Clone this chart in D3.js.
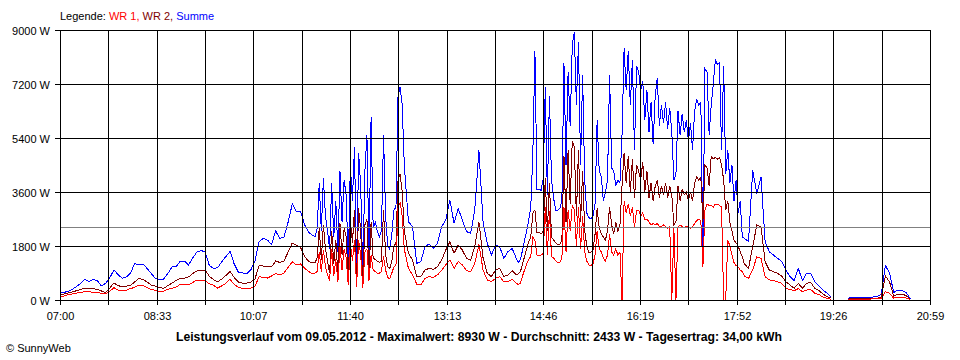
<!DOCTYPE html>
<html><head><meta charset="utf-8">
<script src="https://cdn.jsdelivr.net/npm/d3@7"></script>
<style>
body{margin:0;background:#fff;}
svg{display:block;font-family:"Liberation Sans",Arial,sans-serif;}
</style></head><body>
<svg id="c" width="960" height="360"></svg>
<script>
// ---- sample times (minutes after midnight): 4-min steps, 2-min steps in the gusty periods ----
const startMinute = 420, endMinute = 1259;
const sampleTimes = [].concat(d3.range(420,661,4), d3.range(662,753,2), d3.range(756,861,4),
                              d3.range(862,1081,2), d3.range(1084,1257,4));
// ---- series values (W) ----
const summe = [
240,260,280,360,450,560,690,620,680,640,470,560,740,1000,850,720,770,900,1210,1180,
1200,1050,880,720,680,700,880,1100,1110,1300,1300,1170,1400,1600,1650,1600,1150,1050,1080,1270,
1450,1620,1200,930,900,880,1000,1300,1950,2050,2000,1850,2300,2050,2100,2600,3200,2950,2950,2500,2250,
2200,2150,2100,2400,3900,2300,4050,2800,2300,1700,3900,2100,3300,1600,4300,2600,4000,3500,1200,4500,
3300,5100,900,4900,3800,800,4300,5500,1500,6100,2400,2600,2300,2100,2300,5500,2800,1800,1700,2200,
3000,3100,6800,7100,6500,4500,
2610,2440,1220,1280,1780,1870,1720,1890,2440,2670,3330,2560,3050,2670,2280,2220,3000,5000,2600,1890,
1500,1830,1780,1390,1610,1720,1390,
1250,1350,1650,2000,2300,2650,3100,4900,8300,3700,3700,3650,4050,7100,3500,6800,4000,3400,3000,3000,
3050,3300,7900,4500,7600,5800,8500,8930,6500,8600,4500,7500,4000,2900,2750,2700,2800,3200,6000,4300,
4100,3300,3600,4000,7500,4400,4300,3800,4000,3900,5500,8400,7000,8300,6500,8000,5000,7800,7600,7000,
7300,6000,7000,5600,6600,5200,6800,7400,5800,6500,5900,6600,5700,6400,5600,4000,4200,6300,5500,6200,
5600,6000,5300,5900,5000,6300,6700,6500,6600,1600,7700,7600,5500,6500,7200,8000,7850,7900,5000,7800,
4200,5000,3900,4500,3300,4000,2900,3300,2100,2050,
1950,4330,3550,4100,1950,1610,1500,1390,1280,1000,780,650,1050,650,890,890,610,470,330,220,
90,null,null,null,60,80,80,80,90,90,100,110,200,1150,900,250,330,320,250,40,null,null,null,null];
const wr2 = [
170,200,240,270,310,350,390,380,370,360,300,250,400,570,480,440,460,490,600,720,
680,600,500,460,420,390,480,560,650,720,730,770,880,970,980,1000,790,680,610,700,
820,950,750,600,560,560,600,700,1150,1130,1120,1100,1300,1250,1300,1600,1900,1830,1750,1440,1280,
1250,1245,1250,1400,2400,1350,2500,1700,1300,900,2300,1200,2000,850,2550,1500,2400,2100,700,2700,
1900,3000,600,3050,2300,500,2500,2700,800,2600,1400,1350,1300,1250,1300,3000,1500,1100,1050,1300,
1800,1900,4000,4200,3600,2300,
1555,1330,780,780,1000,1055,1020,1110,1330,1665,1945,1555,1830,1665,1390,1330,1780,2600,1400,890,
780,1000,1055,780,835,980,835,
870,940,1200,1450,1700,1950,2100,2900,3000,2250,2250,2200,2300,4050,2300,3900,2100,2000,1900,1850,
1850,2000,4800,2600,5000,3200,5300,5100,2800,5000,2600,4300,2300,1800,1600,1600,1650,2200,3050,2400,
2200,2100,2000,2300,3100,2500,2200,2600,2300,2500,3800,4900,3900,4800,3600,4700,3400,4500,4300,4000,
4600,3600,4300,3400,3900,3300,3800,4000,3400,3800,3500,3900,3400,3800,3500,2500,2600,3800,3300,3700,
3500,3600,3300,3600,3300,3900,4100,4000,4100,2600,4500,4400,3800,4800,4700,4750,4700,4750,4500,4000,
3000,3300,2600,2300,2000,1900,1800,1600,1450,1200,
1055,1780,2500,2440,1280,1000,945,890,800,610,500,390,550,390,555,580,390,310,190,110,
55,null,null,null,30,40,40,40,45,45,50,55,100,800,600,130,200,190,150,20,null,null,null,null];
const wr1 = [
100,130,180,200,230,250,280,270,260,250,220,200,290,410,330,310,330,380,420,500,
480,420,350,320,290,290,360,390,430,520,530,500,580,670,640,640,540,490,400,470,
560,690,520,420,390,390,400,450,780,750,730,800,880,840,900,1090,1270,1170,1200,1055,945,
900,890,900,950,1600,950,1650,1100,850,650,1700,800,1350,600,1800,1000,1700,1400,500,1900,
1300,2000,450,2000,1500,400,1600,1700,650,1500,1000,950,900,900,950,1450,1000,750,700,900,
1100,1150,3100,3250,2800,1700,
1055,835,530,500,720,780,755,835,980,1170,1330,1055,1280,1170,980,945,1220,1850,1000,670,
610,720,780,610,610,690,555,
520,555,800,1000,1200,1350,1450,2100,2000,1500,1500,1500,1550,3100,1500,2950,1450,1400,1300,1250,
1250,1400,3100,1600,3000,2300,3150,3000,1800,3100,1700,2800,1600,1300,1170,1150,1200,1500,2300,1700,
1600,1400,1300,1500,2200,1600,1500,1700,1500,1600,0,3300,2900,3200,2800,3100,2400,3000,3000,2800,
2900,2700,2700,2600,2500,2550,2500,2550,2450,2450,2500,2450,2400,2450,0,2400,0,2450,2500,2450,
2400,2450,2450,2400,2450,2550,2650,2700,2650,1100,3000,3200,3150,3150,3100,3200,3200,3150,3100,0,
0,2000,1800,1500,1250,1150,1100,1000,950,800,
720,1000,1440,1390,780,670,645,610,555,390,350,310,380,280,330,350,220,180,90,55,
20,null,null,null,20,25,25,25,30,30,35,35,60,280,220,60,100,90,70,10,null,null,null,null];
const yTicks = [0,1800,3600,5400,7200,9000];
const xTickLabels = ["07:00","08:33","10:07","11:40","13:13","14:46","16:19","17:52","19:26","20:59"];
const average = 2433;
const legendParts = [["Legende: ","#000"],["WR 1, ","#ff0000"],["WR 2, ","#800000"],["Summe","#0000ff"]];
const titleText = "Leistungsverlauf vom 09.05.2012 - Maximalwert: 8930 W - Durchschnitt: 2433 W - Tagesertrag: 34,00 kWh";
const creditText = "\u00A9 SunnyWeb";

const svg = d3.select("#c");
const x = d3.scaleLinear().domain([startMinute,endMinute]).range([60,930]);
const y = d3.scaleLinear().domain([0,9000]).range([300,30]);

// series
const line = d3.line().defined(d=>d[1]!==null).x(d=>x(d[0])).y(d=>y(d[1]));
[[summe,"#0000ff"],[wr2,"#800000"],[wr1,"#ff0000"]].forEach(([vals,col])=>{
  svg.append("path").datum(vals.map((v,i)=>[sampleTimes[i],v]))
    .attr("d",line).attr("fill","none").attr("stroke",col).attr("stroke-width",1)
    .attr("shape-rendering","crispEdges");
});

// average line
const ya = Math.round(y(average))+0.5;
svg.append("line").attr("x1",60).attr("x2",930).attr("y1",ya).attr("y2",ya)
  .attr("stroke","#808080").attr("shape-rendering","crispEdges");

// grid
const g = svg.append("g").attr("stroke","#000").attr("shape-rendering","crispEdges");
const nGrid = 18;
for(let k=0;k<=nGrid;k++){
  const xp = Math.round(x(startMinute + k*(endMinute-startMinute)/nGrid))+0.5;
  g.append("line").attr("x1",xp).attr("x2",xp).attr("y1",30).attr("y2",305);
}
yTicks.forEach(v=>{
  const yp = Math.round(y(v))+0.5;
  g.append("line").attr("x1",55).attr("x2",931).attr("y1",yp).attr("y2",yp);
  svg.append("text").attr("x",50).attr("y",yp+4).attr("text-anchor","end")
    .attr("font-size",11).text(v+" W");
});
xTickLabels.forEach((lab,k)=>{
  const xp = Math.round(x(startMinute + k*(endMinute-startMinute)/(xTickLabels.length-1)))+0.5;
  svg.append("text").attr("x",xp).attr("y",320).attr("text-anchor","middle").attr("font-size",11).text(lab);
});

// legend
const leg = svg.append("text").attr("x",60).attr("y",20).attr("font-size",11);
legendParts.forEach(([t,c])=>leg.append("tspan").attr("fill",c).text(t));

// title & credit
svg.append("text").attr("x",479).attr("y",341).attr("text-anchor","middle")
  .attr("font-size",12).attr("font-weight","bold")
  .attr("textLength",606).attr("lengthAdjust","spacingAndGlyphs").text(titleText);
svg.append("text").attr("x",6).attr("y",352).attr("font-size",11).text(creditText);
</script>
</body></html>
